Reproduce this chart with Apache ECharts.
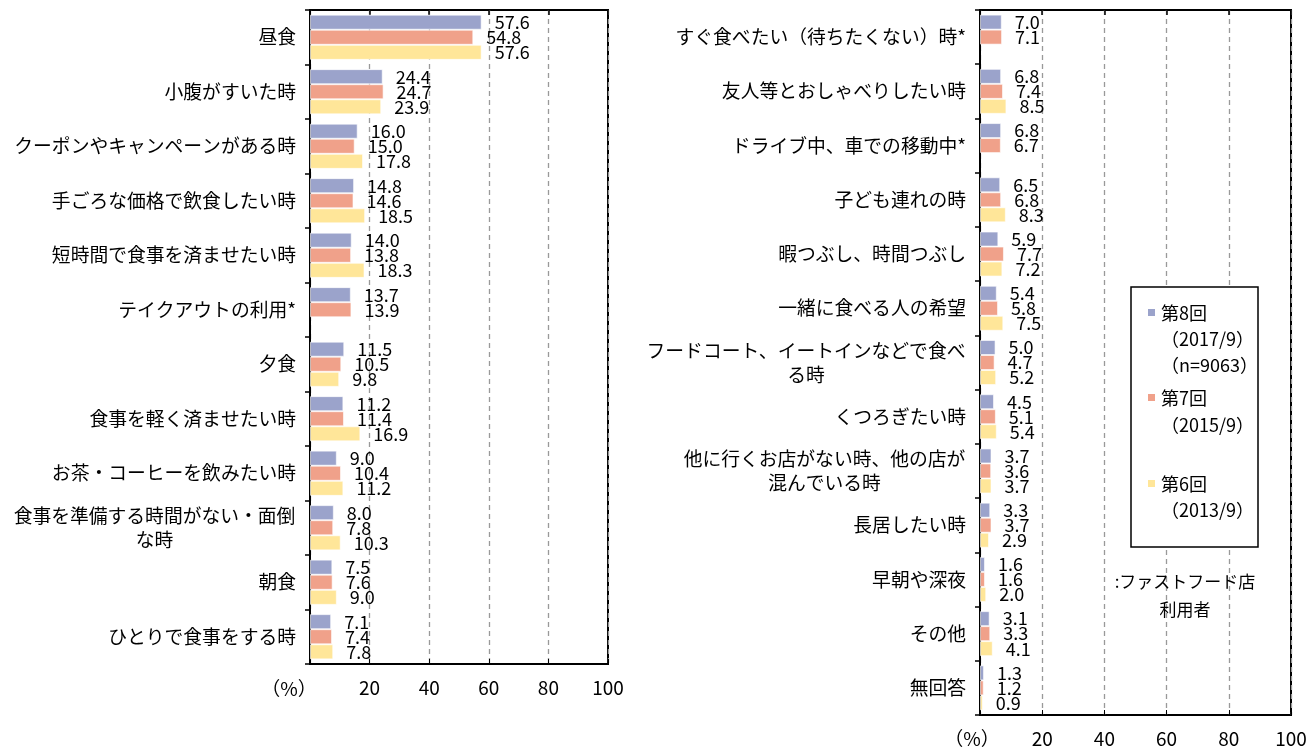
<!DOCTYPE html>
<html>
<head>
<meta charset="utf-8">
<script src="https://cdn.jsdelivr.net/npm/echarts@6/dist/echarts.min.js"></script>
<style>
html,body{margin:0;padding:0;background:#fff;}
#chart{width:1314px;height:751px;}
</style>
</head>
<body>
<div id="chart"></div>
<script>
// ---- data ----
const seriesNames = ['第8回', '第7回', '第6回'];
const legendSub = [['（2017/9）', '（n=9063）'], ['（2015/9）'], ['（2013/9）']];

const catsLeft = ['昼食', '小腹がすいた時', 'クーポンやキャンペーンがある時', '手ごろな価格で飲食したい時',
  '短時間で食事を済ませたい時', 'テイクアウトの利用*', '夕食', '食事を軽く済ませたい時',
  'お茶・コーヒーを飲みたい時', '食事を準備する時間がない・面倒\nな時', '朝食', 'ひとりで食事をする時'];
const r8Left = [57.6, 24.4, 16.0, 14.8, 14.0, 13.7, 11.5, 11.2, 9.0, 8.0, 7.5, 7.1];
const r7Left = [54.8, 24.7, 15.0, 14.6, 13.8, 13.9, 10.5, 11.4, 10.4, 7.8, 7.6, 7.4];
const r6Left = [57.6, 23.9, 17.8, 18.5, 18.3, null, 9.8, 16.9, 11.2, 10.3, 9.0, 7.8];

const catsRight = ['すぐ食べたい（待ちたくない）時*', '友人等とおしゃべりしたい時', 'ドライブ中、車での移動中*',
  '子ども連れの時', '暇つぶし、時間つぶし', '一緒に食べる人の希望', 'フードコート、イートインなどで食べ\nる時',
  'くつろぎたい時', '他に行くお店がない時、他の店が\n混んでいる時', '長居したい時', '早朝や深夜', 'その他', '無回答'];
const r8Right = [7.0, 6.8, 6.8, 6.5, 5.9, 5.4, 5.0, 4.5, 3.7, 3.3, 1.6, 3.1, 1.3];
const r7Right = [7.1, 7.4, 6.7, 6.8, 7.7, 5.8, 4.7, 5.1, 3.6, 3.7, 1.6, 3.3, 1.2];
const r6Right = [null, 8.5, null, 8.3, 7.2, 7.5, 5.2, 5.4, 3.7, 2.9, 2.0, 4.1, 0.9];

const axisMin = 0, axisMax = 100, axisStep = 20;
const caption = ':ファストフード店\n利用者';

// ---- style ----
const FONT = '"Noto Sans CJK JP", "Noto Sans", sans-serif';
const colors = ['#9BA3CB', '#F0A18A', '#FFE699'];
const catFontSize = 18.8;

const measureCanvas = document.createElement('canvas').getContext('2d');
measureCanvas.font = catFontSize + 'px "Noto Sans CJK JP"';

function yAxis(gi, cats) {
  const rich = {};
  cats.forEach((v, i) => {
    if (v.indexOf('\n') >= 0) {
      const w = Math.ceil(Math.max.apply(null, v.split('\n').map(l => measureCanvas.measureText(l).width))) + 1;
      rich['c' + i] = { fontSize: catFontSize, fontFamily: FONT, color: '#000', align: 'center', lineHeight: 24, width: w };
    }
  });
  return {
    type: 'category', gridIndex: gi, data: cats, inverse: true,
    axisLine: { show: true, lineStyle: { color: '#000', width: 2 } },
    axisTick: { show: true, length: 5, lineStyle: { color: '#000', width: 1.5 } },
    axisLabel: { margin: 14, fontSize: catFontSize, fontFamily: FONT, color: '#000', lineHeight: 24,
      formatter: (v, i) => v.indexOf('\n') < 0 ? v : v.split('\n').map(l => '{c' + i + '|' + l + '}').join('\n'),
      rich: rich }
  };
}

const grids = [
  { left: 310, top: 10, width: 298, height: 654, show: true, borderColor: '#000', borderWidth: 2, backgroundColor: 'transparent' },
  { left: 980, top: 10, width: 311, height: 705, show: true, borderColor: '#000', borderWidth: 2, backgroundColor: 'transparent' }
];

function xAxes(gi) {
  return [{
    type: 'value', gridIndex: gi, position: 'bottom', min: axisMin, max: axisMax, interval: axisStep,
    axisLine: { show: false },
    axisTick: { show: true, inside: true, length: 5, lineStyle: { color: '#000' } },
    axisLabel: { margin: 14, fontSize: 19, fontFamily: FONT, color: '#000', formatter: v => v === 0 ? '' : String(v) },
    splitLine: { show: true, lineStyle: { color: '#999', type: [5, 4], width: 1.3 } }
  }, {
    type: 'value', gridIndex: gi, position: 'top', min: axisMin, max: axisMax, interval: axisStep,
    axisLine: { show: false },
    axisTick: { show: true, inside: true, length: 5, lineStyle: { color: '#000', width: 1.5 } },
    axisLabel: { show: false }, splitLine: { show: false }
  }];
}

function barSeries(gi, idx, data) {
  return {
    type: 'bar', name: seriesNames[idx], xAxisIndex: gi * 2, yAxisIndex: gi, data: data,
    barGap: '0%', barCategoryGap: '17%',
    itemStyle: { color: colors[idx], borderColor: 'rgba(255,255,255,0.6)', borderWidth: 1 },
    label: { show: true, position: 'right', distance: 13, fontSize: 18, fontFamily: FONT, color: '#000',
      formatter: p => p.value == null ? '' : p.value.toFixed(1) },
    silent: true, animation: false
  };
}

// legend box (graphic)
const legendGraphic = [];
legendGraphic.push({ type: 'rect', shape: { x: 1131, y: 287, width: 127, height: 260 },
  style: { fill: '#fff', stroke: '#000', lineWidth: 1.5 }, z: 10 });
const legendY = [[313, 339, 365], [398, 425], [484, 510]];
seriesNames.forEach((n, i) => {
  legendGraphic.push({ type: 'rect', shape: { x: 1148, y: legendY[i][0] - 4, width: 7, height: 7 },
    style: { fill: colors[i] }, z: 11 });
  const lines = [n].concat(legendSub[i]);
  lines.forEach((t, j) => {
    legendGraphic.push({ type: 'text', x: 1161, y: legendY[i][j], z: 11,
      style: { text: t, fontSize: 18, fontFamily: FONT, fill: '#000', verticalAlign: 'middle', align: 'left' } });
  });
});
legendGraphic.push({ type: 'text', x: 1185, y: 596, z: 11,
  style: { text: caption, fontSize: 17, fontFamily: FONT, fill: '#000', align: 'center', verticalAlign: 'middle', lineHeight: 28 } });
legendGraphic.push({ type: 'text', x: 289, y: 689, style: { text: '（%）', fontSize: 19, fontFamily: FONT, fill: '#000', align: 'center', verticalAlign: 'middle' } });
legendGraphic.push({ type: 'text', x: 972, y: 739, style: { text: '（%）', fontSize: 19, fontFamily: FONT, fill: '#000', align: 'center', verticalAlign: 'middle' } });

const chart = echarts.init(document.getElementById('chart'), null, { renderer: 'canvas' });
chart.setOption({
  animation: false,
  backgroundColor: '#fff',
  textStyle: { fontFamily: FONT },
  grid: grids,
  xAxis: xAxes(0).concat(xAxes(1)),
  yAxis: [yAxis(0, catsLeft), yAxis(1, catsRight)],
  series: [
    barSeries(0, 0, r8Left), barSeries(0, 1, r7Left), barSeries(0, 2, r6Left),
    barSeries(1, 0, r8Right), barSeries(1, 1, r7Right), barSeries(1, 2, r6Right)
  ],
  graphic: legendGraphic
});
</script>
</body>
</html>
